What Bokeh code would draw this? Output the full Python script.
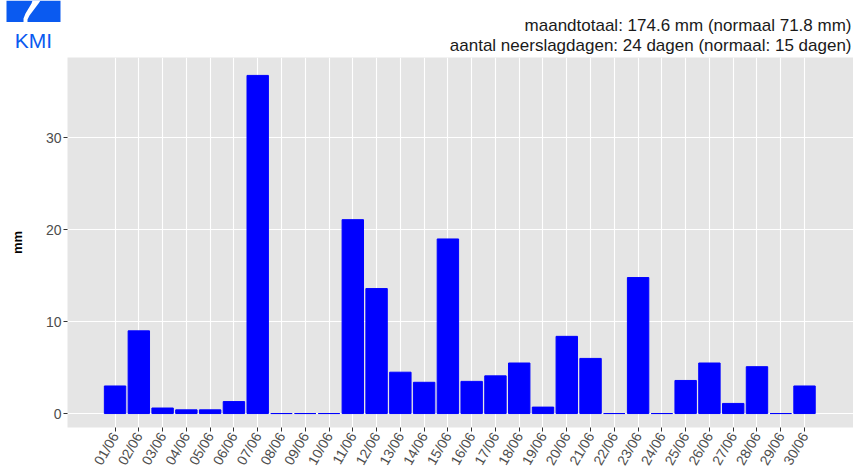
from math import pi
from bokeh.plotting import figure
from bokeh.layouts import column
from bokeh.models import Range1d, FixedTicker
from bokeh.core.properties import value
from bokeh.embed import file_html
from bokeh.resources import INLINE

days = ["01/06", "02/06", "03/06", "04/06", "05/06", "06/06", "07/06", "08/06",
        "09/06", "10/06", "11/06", "12/06", "13/06", "14/06", "15/06", "16/06",
        "17/06", "18/06", "19/06", "20/06", "21/06", "22/06", "23/06", "24/06",
        "25/06", "26/06", "27/06", "28/06", "29/06", "30/06"]
precip = [3.0, 9.0, 0.6, 0.4, 0.4, 1.3, 36.8, 0.0, 0.0, 0.0,
          21.1, 13.6, 4.5, 3.4, 19.0, 3.5, 4.1, 5.5, 0.7, 8.4,
          6.0, 0.0, 14.8, 0.0, 3.6, 5.5, 1.1, 5.1, 0.0, 3.0]
y_ticks = [0, 10, 20, 30]
title_lines = ["maandtotaal: 174.6 mm (normaal 71.8 mm)",
               "aantal neerslagdagen: 24 dagen (normaal: 15 dagen)"]
logo_text = "KMI"

xs = list(range(1, len(days) + 1))
FONT = "Liberation Sans"
LOGO_BLUE = "#0A5AF0"

# ---- header strip: logo + summary text ----
head = figure(width=853, height=57, output_backend="svg", toolbar_location=None,
              x_range=Range1d(0, 853), y_range=Range1d(57, 0),
              min_border_left=0, min_border_right=0, min_border_top=0,
              min_border_bottom=0)
head.axis.visible = False
head.grid.visible = False
head.outline_line_color = None
head.background_fill_color = "white"
head.border_fill_color = "white"

head.quad(left=[6], right=[60], top=[0], bottom=[21.5], fill_color=LOGO_BLUE,
          line_color=None)
head.patch(x=[32, 40, 38, 35, 32, 29, 27, 27, 23, 23, 25, 28, 31],
           y=[0, 0, 3, 7, 11, 15, 19, 21.5, 21.5, 18, 13, 8, 3],
           fill_color="white", line_color=None)
head.text(x=[33], y=[40], text=[logo_text], text_align="center",
          text_baseline="alphabetic", text_font=value(FONT),
          text_font_size=value("21px"), text_color=LOGO_BLUE)
head.text(x=[851, 851], y=[25, 45], text=title_lines, text_align="right",
          text_baseline="alphabetic", text_font=value(FONT),
          text_font_size=value("17px"), text_color="#1A1A1A")

# ---- main bar chart ----
p = figure(width=853, height=417, output_backend="svg", toolbar_location=None,
           x_range=Range1d(-1.0, 32.06), y_range=Range1d(-1.52, 38.75),
           min_border_left=67, min_border_right=0, min_border_top=0,
           min_border_bottom=42)

for fig in (head, p):
    try:
        fig.frame_align = False
    except Exception:
        pass

p.background_fill_color = "#E5E5E5"
p.border_fill_color = "white"
p.outline_line_color = None

p.vbar(x=xs, top=precip, bottom=0, width=0.9,
       fill_color="#0000FF", line_color="#0000FF", line_width=1)

p.xgrid.ticker = FixedTicker(ticks=xs)
p.ygrid.ticker = FixedTicker(ticks=y_ticks)
for g in (p.xgrid, p.ygrid):
    g.grid_line_color = "white"
    g.grid_line_width = 1.1
    g.minor_grid_line_color = None

p.xaxis.ticker = FixedTicker(ticks=xs)
p.xaxis.major_label_overrides = {x: d for x, d in zip(xs, days)}
p.xaxis.major_label_orientation = pi / 3
p.yaxis.ticker = FixedTicker(ticks=y_ticks)
for ax in (p.xaxis, p.yaxis):
    ax.axis_line_color = None
    ax.major_tick_line_color = "#333333"
    ax.major_tick_out = 4
    ax.major_tick_in = 0
    ax.minor_tick_line_color = None
    ax.major_label_text_color = "#4D4D4D"
    ax.major_label_text_font = FONT
    ax.major_label_standoff = 2
p.xaxis.major_label_text_font_size = "14px"
p.yaxis.major_label_text_font_size = "14px"
p.yaxis.axis_label = "mm"
p.yaxis.axis_label_text_font = FONT
p.yaxis.axis_label_text_font_style = "bold"
p.yaxis.axis_label_text_font_size = "13px"
p.yaxis.axis_label_text_color = "black"
p.yaxis.axis_label_standoff = 18

layout = column(head, p, spacing=0)
open("out.html", "w").write(file_html(layout, INLINE))
